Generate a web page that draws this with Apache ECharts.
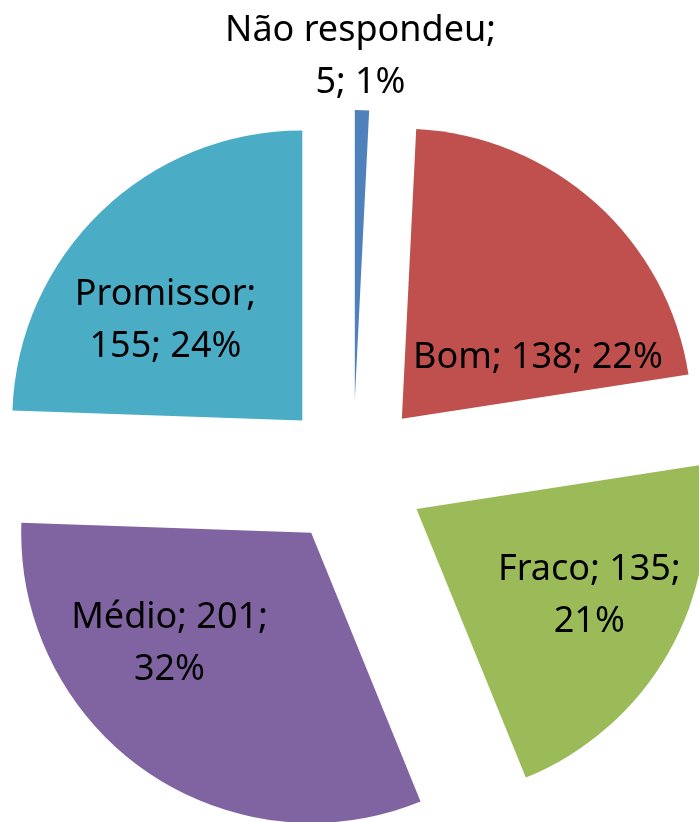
<!DOCTYPE html>
<html>
<head>
<meta charset="utf-8">
<script src="https://cdn.jsdelivr.net/npm/echarts@6/dist/echarts.min.js"></script>
<style>
  html, body { margin: 0; padding: 0; background: #fff; }
  #pie { width: 699px; height: 822px; }
</style>
</head>
<body>
<div id="pie"></div>
<script>
// dados
var categorias = ['Não respondeu', 'Bom', 'Fraco', 'Médio', 'Promissor'];
var valores = [5, 138, 135, 201, 155];
var cores = ['#4F81BD', '#C0504D', '#9BBB59', '#8064A2', '#4BACC6'];

// onde quebra a linha do rótulo e deslocamento do rótulo
var quebra = ['nome', 'nenhuma', 'valor', 'valor', 'nome'];
var deslocRotulo = [[2, -195], [37, 49], [44, 14], [-57, -10], [-34, 7]];

var formatos = {
  nome: '{b};\n{c}; {d}%',
  nenhuma: '{b}; {c}; {d}%',
  valor: '{b}; {c};\n{d}%'
};

var dados = [];
for (var i = 0; i < categorias.length; i++) {
  dados.push({
    name: categorias[i],
    value: valores[i],
    selected: true,
    itemStyle: { color: cores[i] },
    label: { formatter: formatos[quebra[i]] }
  });
}

var myChart = echarts.init(document.getElementById('pie'));
myChart.setOption({
  animation: false,
  backgroundColor: '#fff',
  series: [
    {
      type: 'pie',
      center: [353, 473],
      radius: [0, 290],
      startAngle: 90,
      clockwise: true,
      percentPrecision: 0,
      selectedMode: 'multiple',
      selectedOffset: 73,
      avoidLabelOverlap: false,
      emphasis: { disabled: true },
      label: {
        position: 'inside',
        color: '#000',
        fontFamily: 'Noto Sans',
        fontSize: 36,
        lineHeight: 52,
        align: 'center'
      },
      labelLine: { show: false },
      labelLayout: function (p) {
        var o = deslocRotulo[p.dataIndex];
        return { dx: o[0], dy: o[1] };
      },
      data: dados
    }
  ]
});
</script>
</body>
</html>
